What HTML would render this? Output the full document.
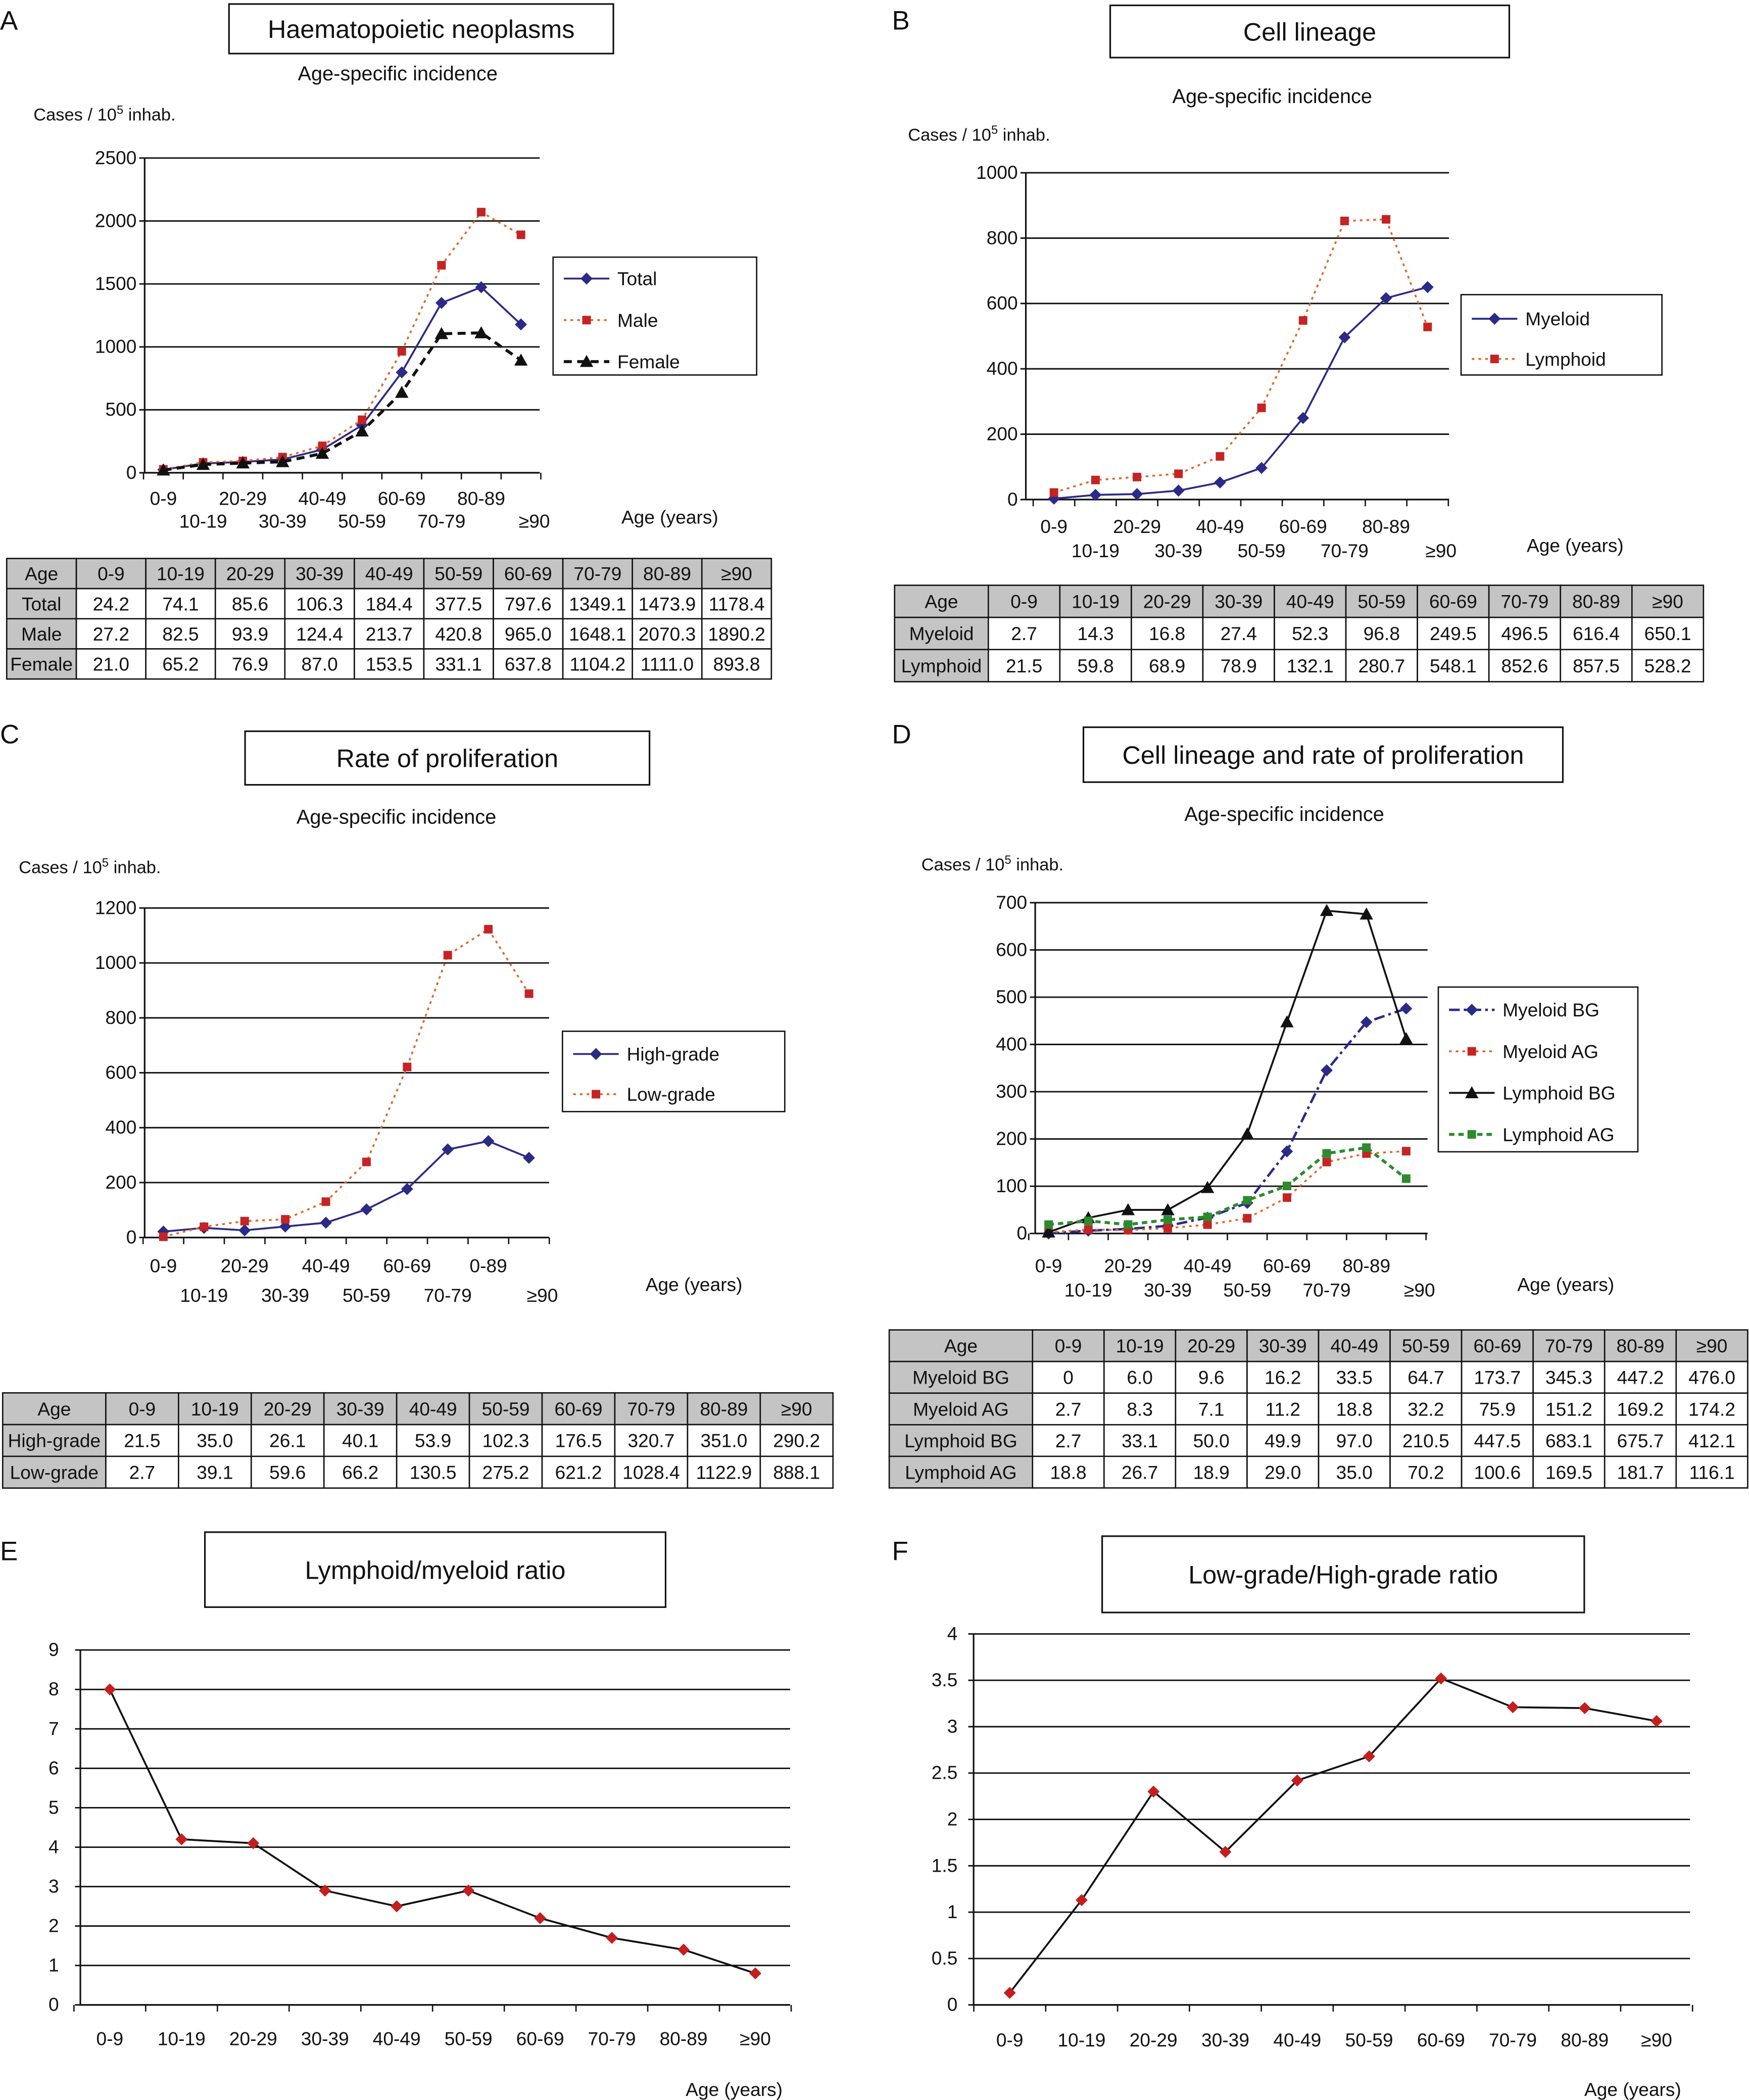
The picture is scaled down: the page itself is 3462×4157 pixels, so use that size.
<!DOCTYPE html>
<html><head><meta charset="utf-8"><style>
html,body{margin:0;padding:0;background:#fff}
svg{display:block}
text{font-family:"Liberation Sans",Arial,sans-serif;fill:#111}
</style></head><body>
<svg id="fig" xmlns="http://www.w3.org/2000/svg" width="3462" height="4157" viewBox="0 0 1306 1568" preserveAspectRatio="none"></svg>
<script>
const ageLabels = ['0-9','10-19','20-29','30-39','40-49','50-59','60-69','70-79','80-89','≥90'];
const ageLabelsC = ['0-9','10-19','20-29','30-39','40-49','50-59','60-69','70-79','0-89','≥90'];
const A_total = [24.2,74.1,85.6,106.3,184.4,377.5,797.6,1349.1,1473.9,1178.4];
const A_male = [27.2,82.5,93.9,124.4,213.7,420.8,965.0,1648.1,2070.3,1890.2];
const A_female = [21.0,65.2,76.9,87.0,153.5,331.1,637.8,1104.2,1111.0,893.8];
const B_myeloid = [2.7,14.3,16.8,27.4,52.3,96.8,249.5,496.5,616.4,650.1];
const B_lymphoid = [21.5,59.8,68.9,78.9,132.1,280.7,548.1,852.6,857.5,528.2];
const C_high = [21.5,35.0,26.1,40.1,53.9,102.3,176.5,320.7,351.0,290.2];
const C_low = [2.7,39.1,59.6,66.2,130.5,275.2,621.2,1028.4,1122.9,888.1];
const D_myBG = [0,6.0,9.6,16.2,33.5,64.7,173.7,345.3,447.2,476.0];
const D_myAG = [2.7,8.3,7.1,11.2,18.8,32.2,75.9,151.2,169.2,174.2];
const D_lyBG = [2.7,33.1,50.0,49.9,97.0,210.5,447.5,683.1,675.7,412.1];
const D_lyAG = [18.8,26.7,18.9,29.0,35.0,70.2,100.6,169.5,181.7,116.1];
const E_ratio = [8.0,4.2,4.1,2.9,2.5,2.9,2.2,1.7,1.4,0.8];
const F_ratio = [0.13,1.13,2.3,1.65,2.42,2.68,3.52,3.21,3.2,3.06];
const A_ticks = [0,500,1000,1500,2000,2500];
const B_ticks = [0,200,400,600,800,1000];
const C_ticks = [0,200,400,600,800,1000,1200];
const D_ticks = [0,100,200,300,400,500,600,700];
const E_ticks = [0,1,2,3,4,5,6,7,8,9];
const F_ticks = [0,0.5,1,1.5,2,2.5,3,3.5,4];

const NS='http://www.w3.org/2000/svg';
const svg=document.getElementById('fig');
function el(tag,attrs,parent,txt){const e=document.createElementNS(NS,tag);for(const k in attrs)e.setAttribute(k,attrs[k]);if(txt!==undefined)e.textContent=txt;(parent||svg).appendChild(e);return e;}
function grp(name){const g=el('g',{},svg);return g;}
function txt(g,x,y,s,size,anchor,name){const t=el('text',{x:x,y:y,'font-size':size,'text-anchor':anchor||'start'},g,s);return t;}

const NAVY='#2b2a86',RED='#c42424',ORANGE='#dd6a2a',GREEN='#2e8a2e';
function marker(g,type,x,y,color){
  let m;
  if(type==='diamond') m=el('polygon',{points:`${x},${y-4.5} ${x+4.5},${y} ${x},${y+4.5} ${x-4.5},${y}`,fill:color},g);
  else if(type==='square') m=el('rect',{x:x-3.2,y:y-3.2,width:6.4,height:6.4,fill:color},g);
  else m=el('polygon',{points:`${x},${y-5} ${x+5},${y+4} ${x-5},${y+4}`,fill:color},g);
  
  
}

function chart(o){
  const g=grp(o.name);
  const yS=v=>o.y1-(v-o.ticks[0])/(o.ticks[o.ticks.length-1]-o.ticks[0])*(o.y1-o.y0);
  const xS=i=>o.cx0+i*(o.cx1-o.cx0)/9;
  const off=o.toff||6;
  o.ticks.forEach(t=>{
    const y=yS(t);
    const l=el('line',{x1:o.x0-4,x2:o.x1,y1:y,y2:y,stroke:'#111','stroke-width':1.1},g);
    
    txt(g,o.x0-off,y+4.5,String(t),o.tfs||14,'end','y-tick-label');
  });
  if(o.box){const r=el('rect',{x:o.x0,y:o.y0,width:o.x1-o.x0,height:o.y1-o.y0,fill:'none',stroke:'#111','stroke-width':1.1},g);}
  const ax=el('line',{x1:o.x0,x2:o.x0,y1:o.y0,y2:o.y1,stroke:'#111','stroke-width':1.2},g);
  const bx=el('line',{x1:o.x0,x2:o.x1,y1:o.y1,y2:o.y1,stroke:'#111','stroke-width':1.2},g);
  const step=(o.cx1-o.cx0)/9;
  for(let i=0;i<=10;i++){const x=o.cx0-step/2+i*step;const tk=el('line',{x1:x,x2:x,y1:o.y1,y2:o.y1+5,stroke:'#111','stroke-width':1},g);}
  o.labels.forEach((s,i)=>{const y=o.twoRow?(i%2?o.ly2:o.ly1):o.ly1;txt(g,xS(i)+(o.twoRow&&i===9?10:0),y,s,14,'middle','x-tick-label');});
  o.series.forEach(s=>{
    const sg=el('g',{},g);
    const pts=s.values.map((v,i)=>xS(i)+','+yS(v)).join(' ');
    const pl=el('polyline',{points:pts,fill:'none',stroke:s.line,'stroke-width':s.w||1.4,'stroke-dasharray':s.dash||'none'},sg);
    
    s.values.forEach((v,i)=>marker(sg,s.marker,xS(i),yS(v),s.mc));
  });
  if(o.legend){
    const L=o.legend;const lg=el('g',{},g);
    el('rect',{x:L.x,y:L.y,width:L.w,height:L.h,fill:'#fff',stroke:'#111','stroke-width':1},lg);
    o.series.forEach((s,i)=>{
      const y=L.y+L.pad+i*L.gap;const e=el('g',{},lg);
      el('line',{x1:L.x+8,x2:L.x+42,y1:y,y2:y,stroke:s.line,'stroke-width':s.w||1.4,'stroke-dasharray':s.dash||'none'},e);
      marker(e,s.marker,L.x+25,y,s.mc);
      txt(e,L.x+48,y+5,s.label,14,'start','legend-label');
    });
  }
}

function titleBox(name,x,y,w,h,s,fs){const g=grp(name);const r=el('rect',{x:x,y:y,width:w,height:h,fill:'#fff',stroke:'#111','stroke-width':1.2},g);txt(g,x+w/2,y+h/2+fs*0.36,s,fs,'middle','title-text');}

function table(name,x,y,ageW,colW,rowH,rows){
  const g=grp(name);
  const header=['Age'].concat(ageLabels);
  const all=[header].concat(rows.map(r=>[r.label].concat(r.values.map(v=>v===0?'0':v.toFixed(1)))));
  all.forEach((row,ri)=>{row.forEach((c,ci)=>{
    const cx=ci===0?x:x+ageW+(ci-1)*colW;const w=ci===0?ageW:colW;const cy=y+ri*rowH;
    const r=el('rect',{x:cx,y:cy,width:w,height:rowH,fill:(ri===0||ci===0)?'#c4c4c4':'#fff',stroke:'#111','stroke-width':1},g);
    
    txt(g,cx+w/2,cy+rowH/2+5,c,14,'middle','cell-text');
  });});
}

function casesLabel(g,x,y){const t=el('text',{x:x,y:y,'font-size':13},g);
  el('tspan',{},t,'Cases / 10');el('tspan',{dy:-5,'font-size':9},t,'5');el('tspan',{dy:5},t,' inhab.');}

[['A',0,22],['B',666,22],['C',0,555],['D',666,555],['E',0,1165],['F',666,1165]].forEach(p=>{const g=grp('panel-label-'+p[0]);txt(g,p[1],p[2],p[0],20,'start','panel-letter');});

titleBox('title-a',171,3,287,37,'Haematopoietic neoplasms',19);
{const g=grp('labels-a');txt(g,297,60,'Age-specific incidence',15,'middle','subtitle');casesLabel(g,25,90);txt(g,464,391,'Age (years)',14,'start','x-axis-title');}
chart({name:'chart-a',x0:108,x1:403,y0:118,y1:353,ticks:A_ticks,cx0:122,cx1:389,labels:ageLabels,twoRow:true,ly1:377,ly2:394,
 series:[{id:'total',label:'Total',values:A_total,line:NAVY,marker:'diamond',mc:NAVY},
 {id:'male',label:'Male',values:A_male,line:ORANGE,dash:'2,3',marker:'square',mc:RED},
 {id:'female',label:'Female',values:A_female,line:'#111',dash:'6,4',w:2.2,marker:'triangle',mc:'#111'}],
 legend:{x:413,y:192,w:152,h:88,pad:16,gap:31}});
table('table-a',5,417,52,51.9,22.5,[{label:'Total',values:A_total},{label:'Male',values:A_male},{label:'Female',values:A_female}]);

titleBox('title-b',829,4,298,39,'Cell lineage',19);
{const g=grp('labels-b');txt(g,950,77,'Age-specific incidence',15,'middle','subtitle');casesLabel(g,678,105);txt(g,1140,412,'Age (years)',14,'start','x-axis-title');}
chart({name:'chart-b',x0:766,x1:1082,y0:129,y1:373,ticks:B_ticks,cx0:787,cx1:1066,labels:ageLabels,twoRow:true,ly1:398,ly2:416,
 series:[{id:'myeloid',label:'Myeloid',values:B_myeloid,line:NAVY,marker:'diamond',mc:NAVY},
 {id:'lymphoid',label:'Lymphoid',values:B_lymphoid,line:ORANGE,dash:'2,3',marker:'square',mc:RED}],
 legend:{x:1091,y:220,w:150,h:60,pad:18,gap:30}});
table('table-b',668,437,70,53.4,24,[{label:'Myeloid',values:B_myeloid},{label:'Lymphoid',values:B_lymphoid}]);

titleBox('title-c',183,546,302,40,'Rate of proliferation',19);
{const g=grp('labels-c');txt(g,296,615,'Age-specific incidence',15,'middle','subtitle');casesLabel(g,14,652);txt(g,482,964,'Age (years)',14,'start','x-axis-title');}
chart({name:'chart-c',x0:108,x1:410,y0:678,y1:924,ticks:C_ticks,cx0:122,cx1:395,labels:ageLabelsC,twoRow:true,ly1:950,ly2:972,
 series:[{id:'high-grade',label:'High-grade',values:C_high,line:NAVY,marker:'diamond',mc:NAVY},
 {id:'low-grade',label:'Low-grade',values:C_low,line:ORANGE,dash:'2,3',marker:'square',mc:RED}],
 legend:{x:420,y:770,w:166,h:60,pad:17,gap:30}});
table('table-c',2,1040,77,54.3,23.7,[{label:'High-grade',values:C_high},{label:'Low-grade',values:C_low}]);

titleBox('title-d',809,543,358,41,'Cell lineage and rate of proliferation',19);
{const g=grp('labels-d');txt(g,959,613,'Age-specific incidence',15,'middle','subtitle');casesLabel(g,688,650);txt(g,1133,964,'Age (years)',14,'start','x-axis-title');}
chart({name:'chart-d',x0:773,x1:1066,y0:674,y1:921,ticks:D_ticks,cx0:783,cx1:1050,labels:ageLabels,twoRow:true,ly1:950,ly2:968,
 series:[{id:'myeloid-bg',label:'Myeloid BG',values:D_myBG,line:NAVY,dash:'8,3,2,3',w:1.8,marker:'diamond',mc:NAVY},
 {id:'myeloid-ag',label:'Myeloid AG',values:D_myAG,line:ORANGE,dash:'2,3',marker:'square',mc:RED},
 {id:'lymphoid-bg',label:'Lymphoid BG',values:D_lyBG,line:'#111',marker:'triangle',mc:'#111'},
 {id:'lymphoid-ag',label:'Lymphoid AG',values:D_lyAG,line:GREEN,dash:'4,3',w:2.2,marker:'square',mc:GREEN}],
 legend:{x:1074,y:737,w:149,h:123,pad:17,gap:31}});
table('table-d',664,993,107,53.4,23.6,[{label:'Myeloid BG',values:D_myBG},{label:'Myeloid AG',values:D_myAG},{label:'Lymphoid BG',values:D_lyBG},{label:'Lymphoid AG',values:D_lyAG}]);

titleBox('title-e',153,1144,344,56,'Lymphoid/myeloid ratio',19);
{const g=grp('labels-e');txt(g,512,1565,'Age (years)',14,'start','x-axis-title');}
chart({name:'chart-e',x0:60,x1:590,y0:1232,y1:1497,ticks:E_ticks,cx0:82,cx1:564,labels:ageLabels,twoRow:false,ly1:1527,tfs:14,toff:16,
 series:[{id:'lymphoid-myeloid-ratio',label:'',values:E_ratio,line:'#111',marker:'diamond',mc:'#c41e1e'}]});

titleBox('title-f',823,1147,360,57,'Low-grade/High-grade ratio',19);
{const g=grp('labels-f');txt(g,1183,1565,'Age (years)',14,'start','x-axis-title');}
chart({name:'chart-f',x0:727,x1:1262,y0:1220,y1:1497,ticks:F_ticks,cx0:754,cx1:1237,labels:ageLabels,twoRow:false,ly1:1528,tfs:14,toff:12,
 series:[{id:'low-high-ratio',label:'',values:F_ratio,line:'#111',marker:'diamond',mc:'#c41e1e'}]});
</script>
</body></html>
